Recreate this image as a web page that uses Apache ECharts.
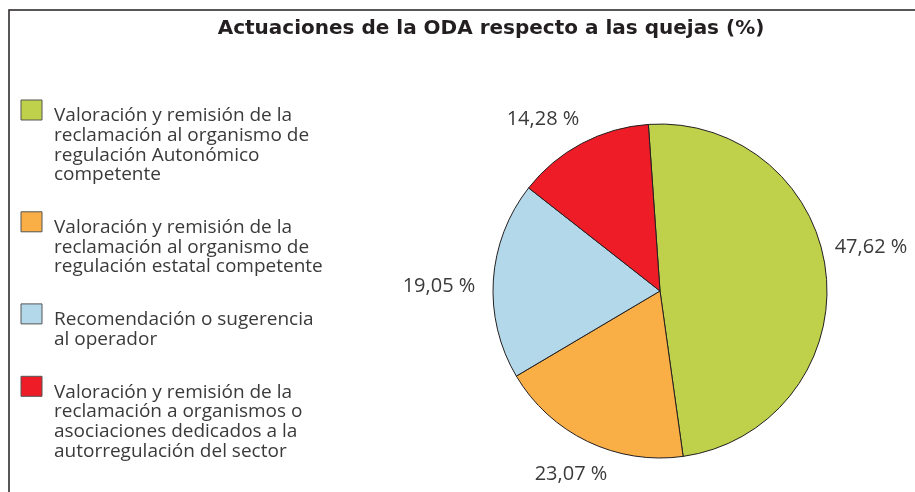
<!DOCTYPE html>
<html>
<head>
<meta charset="utf-8">
<title>Actuaciones de la ODA respecto a las quejas</title>
<script src="https://cdn.jsdelivr.net/npm/echarts@6/dist/echarts.min.js"></script>
<style>
  html, body { margin: 0; padding: 0; background: #fff; }
  #chart { width: 915px; height: 492px; }
</style>
</head>
<body>
<div id="chart"></div>
<script>
// categorias (con saltos de linea como en el original)
const categories = [
  'Valoración y remisión de la\nreclamación al organismo de\nregulación Autonómico\ncompetente',
  'Valoración y remisión de la\nreclamación al organismo de\nregulación estatal competente',
  'Recomendación o sugerencia\nal operador',
  'Valoración y remisión de la\nreclamación a organismos o\nasociaciones dedicados a la\nautorregulación del sector'
]
// tamaño de cada sector
const sliceValues = [48.9, 18.7, 19.1, 13.3]
// etiquetas tal como aparecen impresas
const labelTexts = ['47,62 %', '23,07 %', '19,05 %', '14,28 %']

const palette = ['#bfd14a', '#f9ae46', '#b3d8ea', '#ed1c26']
const labelPos = [[871, 247], [571, 474], [439, 286], [543, 119]]

const chart = echarts.init(document.getElementById('chart'))

// leyenda a mano: el cuadro va arriba y el texto baja un poco
const legendItems = []
let itemTop = 100
categories.forEach(function (name, i) {
  legendItems.push({
    type: 'rect',
    shape: { x: 21, y: itemTop, width: 21, height: 20 },
    style: { fill: palette[i], stroke: '#555', lineWidth: 1 }
  })
  legendItems.push({
    type: 'text',
    x: 54,
    y: itemTop + 6,
    style: {
      text: name,
      font: '19px "Open Sans"',
      fill: '#3a3a3a',
      lineHeight: 19.7,
      verticalAlign: 'top'
    }
  })
  itemTop += name.split('\n').length * 19.7 + 33
})

const option = {
  animation: false,
  title: {
    text: 'Actuaciones de la ODA respecto a las quejas (%)',
    left: 486,
    textAlign: 'center',
    top: 14,
    textStyle: {
      fontFamily: 'DejaVu Sans',
      fontWeight: 'bold',
      fontSize: 20,
      color: '#231f20'
    }
  },
  graphic: [
    {
      type: 'rect',
      shape: { x: 9, y: 10, width: 930, height: 520 },
      style: { fill: 'none', stroke: '#231f20', lineWidth: 1.5 }
    }
  ].concat(legendItems),
  series: [
    {
      type: 'pie',
      center: [660, 291],
      radius: 167,
      startAngle: 94,
      clockwise: true,
      itemStyle: { borderColor: '#231f20', borderWidth: 1 },
      label: {
        show: true,
        position: 'outside',
        overflow: 'none',
        fontFamily: 'Open Sans',
        fontSize: 20,
        color: '#3a3a3a',
        formatter: function (p) { return labelTexts[p.dataIndex] }
      },
      labelLine: { show: false },
      labelLayout: function (p) {
        return { x: labelPos[p.dataIndex][0], y: labelPos[p.dataIndex][1], align: 'center', verticalAlign: 'middle' }
      },
      emphasis: { scale: false },
      data: categories.map(function (c, i) {
        return { name: c, value: sliceValues[i], itemStyle: { color: palette[i] } }
      })
    }
  ]
}

chart.setOption(option)
window.addEventListener('resize', () => {
  chart.resize()
})
</script>
</body>
</html>
